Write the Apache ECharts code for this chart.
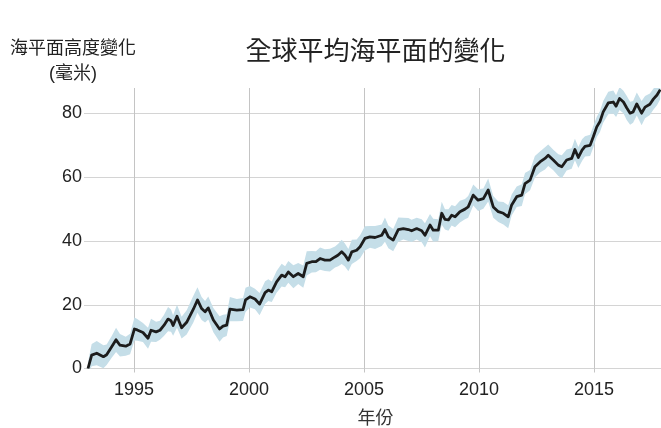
<!DOCTYPE html>
<html>
<head>
<meta charset="utf-8">
<script src="https://cdn.jsdelivr.net/npm/echarts@6/dist/echarts.min.js"></script>
<style>
  html, body { margin: 0; padding: 0; background: #ffffff; }
  #chart { width: 661px; height: 428px; }
</style>
</head>
<body>
<div id="chart"></div>
<script>
// Global mean sea level change (mm), smoothed series with its spread band
const years = [
  1993.00, 1993.16, 1993.38, 1993.67, 1993.81, 1994.03, 1994.22, 1994.39, 1994.64, 1994.83,
  1995.02, 1995.14, 1995.39, 1995.61, 1995.74, 1995.96, 1996.13, 1996.30, 1996.48, 1996.61,
  1996.70, 1996.87, 1997.07, 1997.29, 1997.58, 1997.76, 1997.94, 1998.09, 1998.23, 1998.45,
  1998.72, 1998.87, 1999.03, 1999.17, 1999.47, 1999.74, 1999.85, 2000.04, 2000.26, 2000.46,
  2000.70, 2000.84, 2000.99, 2001.20, 2001.42, 2001.57, 2001.71, 2001.93, 2002.14, 2002.36,
  2002.51, 2002.73, 2002.91, 2003.09, 2003.30, 2003.52, 2003.74, 2003.88, 2004.03, 2004.17,
  2004.32, 2004.47, 2004.68, 2004.83, 2005.04, 2005.26, 2005.48, 2005.77, 2005.91, 2006.06,
  2006.27, 2006.49, 2006.71, 2006.93, 2007.07, 2007.29, 2007.51, 2007.65, 2007.87, 2008.01,
  2008.23, 2008.38, 2008.52, 2008.67, 2008.81, 2008.96, 2009.17, 2009.39, 2009.53, 2009.75,
  2009.96, 2010.19, 2010.40, 2010.62, 2010.84, 2011.06, 2011.27, 2011.42, 2011.64, 2011.86,
  2012.00, 2012.22, 2012.43, 2012.65, 2012.87, 2013.01, 2013.23, 2013.45, 2013.60, 2013.81,
  2014.03, 2014.17, 2014.32, 2014.48, 2014.61, 2014.83, 2014.97, 2015.12, 2015.26, 2015.40,
  2015.62, 2015.84, 2015.96, 2016.11, 2016.28, 2016.42, 2016.57, 2016.70, 2016.86, 2017.07,
  2017.22, 2017.43, 2017.58, 2017.74, 2017.88
];

const levels = [
   0.0,  4.2,  4.8,  3.7,  4.3,  6.8,  9.0,  7.3,  7.0,  7.7,
  12.4, 12.1, 11.3,  9.5, 12.0, 11.5, 12.0, 13.5, 15.5, 15.0,
  13.5, 16.4, 12.8, 14.5, 18.6, 21.5, 18.8, 17.8, 19.0, 15.2,
  12.4, 13.3, 13.6, 18.6, 18.3, 18.5, 21.5, 22.5, 21.8, 20.2,
  23.8, 24.6, 24.1, 27.2, 29.3, 28.8, 30.3, 28.8, 29.8, 28.8,
  33.0, 33.5, 33.5, 34.5, 34.0, 34.0, 35.0, 35.6, 36.6, 35.6,
  34.0, 36.6, 37.1, 38.2, 40.8, 41.3, 41.1, 41.8, 43.6, 41.3,
  40.3, 43.6, 43.9, 43.6, 43.2, 43.9, 43.2, 41.8, 45.0, 43.4,
  43.4, 48.7, 46.8, 46.6, 48.1, 47.6, 49.2, 50.0, 50.7, 54.4,
  52.8, 53.3, 56.0, 50.7, 49.2, 48.7, 47.6, 51.3, 53.9, 54.4,
  58.0, 59.1, 63.3, 64.8, 65.9, 66.9, 65.4, 63.8, 63.3, 65.4,
  65.9, 68.7, 66.2, 68.5, 69.7, 70.0, 72.7, 75.8, 77.5, 80.5,
  83.3, 83.6, 82.3, 84.7, 83.6, 81.8, 80.1, 80.5, 83.0, 80.1,
  82.0, 82.9, 84.5, 85.8, 87.5
];

// half-width of the shaded band around each point (mm)
const spread = [
  2.0, 3.5, 3.8, 3.6, 3.2, 3.4, 3.8, 3.5, 3.0, 3.2,
  3.6, 3.4, 3.0, 3.3, 3.6, 3.2, 3.0, 3.3, 3.8, 3.5,
  3.2, 3.6, 3.4, 3.8, 4.2, 4.0, 3.6, 3.4, 3.6, 3.8,
  4.0, 3.6, 3.4, 3.8, 3.5, 3.6, 3.8, 3.4, 3.2, 3.5,
  3.6, 3.4, 3.2, 3.4, 3.6, 3.3, 3.4, 3.6, 3.3, 3.5,
  3.8, 3.4, 3.3, 3.5, 3.4, 3.6, 3.3, 3.5, 3.8, 3.6,
  3.5, 3.8, 3.4, 3.6, 3.8, 3.4, 3.6, 3.4, 3.8, 3.6,
  3.5, 3.8, 3.4, 3.6, 3.5, 3.4, 3.6, 3.8, 3.5, 3.6,
  3.4, 3.6, 3.2, 3.4, 3.2, 3.3, 3.4, 3.2, 3.4, 3.3,
  3.4, 3.2, 3.6, 3.4, 3.2, 3.5, 3.6, 3.3, 3.2, 3.4,
  3.3, 3.2, 3.4, 3.3, 3.5, 3.4, 3.2, 3.4, 3.6, 3.3,
  3.2, 3.4, 3.3, 3.4, 3.2, 3.3, 3.4, 3.2, 3.3, 3.4,
  3.5, 3.6, 3.4, 3.6, 3.5, 3.8, 3.6, 3.4, 3.6, 3.8,
  3.5, 3.4, 3.3, 3.2, 3.0
];

const xTicks = [1995, 2000, 2005, 2010, 2015];
const yTicks = [0, 20, 40, 60, 80];

const titleText = '全球平均海平面的變化';
const yNameLines = ['海平面高度變化', '(毫米)'];
const xName = '年份';

const fontFamily = '"Liberation Sans", Arial, "Noto Sans CJK TC", sans-serif';
const cjkFamily = '"Liberation Sans", "Noto Sans CJK TC", sans-serif';

const linePts = years.map((y, i) => [y, levels[i]]);

// Shaded band: one polygon, upper edge forward then lower edge back
function renderBand(params, api) {
  const pts = [];
  for (let i = 0; i < years.length; i++) {
    pts.push(api.coord([years[i], levels[i] + spread[i]]));
  }
  for (let i = years.length - 1; i >= 0; i--) {
    pts.push(api.coord([years[i], levels[i] - spread[i]]));
  }
  return {
    type: 'polygon',
    shape: { points: pts },
    style: { fill: '#c5dee8' },
    silent: true
  };
}

const chart = echarts.init(document.getElementById('chart'), null, { renderer: 'canvas' });

chart.setOption({
  animation: false,
  backgroundColor: '#ffffff',
  graphic: [
    {
      type: 'text', x: 375.5, y: 53,
      style: { text: titleText, fontSize: 26, fontFamily: cjkFamily, fill: '#222222', align: 'center', verticalAlign: 'middle' }
    },
    {
      type: 'text', x: 73, y: 49,
      style: { text: yNameLines[0], fontSize: 18, fontFamily: cjkFamily, fill: '#222222', align: 'center', verticalAlign: 'middle' }
    },
    {
      type: 'text', x: 73, y: 74,
      style: { text: yNameLines[1], fontSize: 18, fontFamily: cjkFamily, fill: '#222222', align: 'center', verticalAlign: 'middle' }
    }
  ],
  grid: { left: 88, right: -2, top: 88, bottom: 59.5, containLabel: false, outerBoundsMode: 'none' },
  xAxis: {
    type: 'value',
    min: 1993,
    max: 2018,
    name: xName,
    nameLocation: 'middle',
    nameGap: 42,
    nameTextStyle: { fontSize: 18, color: '#333333', fontFamily: cjkFamily },
    axisLine: { show: false },
    axisTick: { show: true, length: 4, customValues: xTicks, lineStyle: { color: '#c4c4c4', width: 1 } },
    axisLabel: {
      customValues: xTicks,
      fontSize: 18, color: '#222222', fontFamily: fontFamily, margin: 13,
      formatter: v => String(v)
    },
    splitLine: { show: true, lineStyle: { color: '#c4c4c4', width: 1 } }
  },
  yAxis: {
    type: 'value',
    min: 0,
    max: 88,
    axisLine: { show: false },
    axisTick: { show: true, length: 4, customValues: yTicks, lineStyle: { color: '#d4d4d4', width: 1 } },
    axisLabel: {
      customValues: yTicks,
      fontSize: 18, color: '#222222', fontFamily: fontFamily, margin: 6
    },
    splitLine: { show: true, lineStyle: { color: '#d4d4d4', width: 1 } }
  },
  series: [
    {
      name: 'band',
      type: 'custom',
      data: [[years[0], levels[0]]],
      renderItem: renderBand,
      clip: true,
      silent: true,
      z: 1
    },
    {
      name: 'level',
      type: 'line',
      data: linePts,
      symbol: 'none',
      lineStyle: { color: '#1c1c1c', width: 2.8, join: 'round' },
      z: 3
    }
  ]
});
</script>
</body>
</html>
